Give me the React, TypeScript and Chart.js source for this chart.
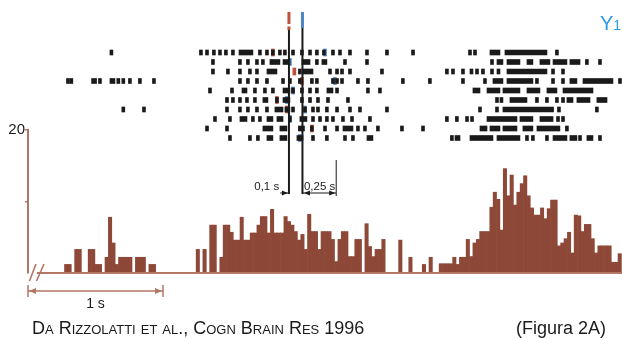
import React, { useEffect, useRef } from 'react';
import { Chart, registerables } from 'chart.js';

Chart.register(...registerables);

const FONT = 'Arial, "Liberation Sans", Helvetica, sans-serif';
Chart.defaults.font.family = FONT;

// ---------- time axis (seconds, 0 = first event) ----------
const T_MIN = -1.933;
const T_MAX = 2.467;

// ---------- histogram: 25 ms bins, bin k centred at k * BIN_WIDTH ----------
const BIN_WIDTH = 0.025;
const FIRST_BIN = -72;
const histCounts = [
  0, 0, 0, 0, 0, 0,
  1.2, 1.2, 0, 3.3, 3.3, 0, 0, 3.3, 3.3, 1.2, 1.2, 0, 2.2, 7.8, 4.2, 1.2,
  2.2, 2.2, 2.2, 2.2, 0, 2.2, 2.2, 2.2, 0, 1.2, 1.2,
  0, 0, 0, 0, 0, 0, 0, 0, 0, 0, 0, 0,
  3.3, 0, 3.3, 0, 6.7, 6.7, 0, 2.2, 6.7, 6.7, 5.7, 4.6, 4.6, 7.8, 4.6, 4.6,
  5.6, 5.6, 6.7, 7.9, 7.9, 5.6, 8.9, 5.6, 5.6, 5.6, 7.9,
  7.2, 6.7, 5.8, 4.6, 5.4, 3.3, 8.2, 5.8, 5.8, 3.3, 5.8, 5.8, 5.8, 4.7, 1.6, 4.7,
  5.8, 5.8, 2.3, 2.3, 4.7, 4.7, 0, 6.9, 3.7, 2.3, 3.3, 3.3, 4.7, 0, 0, 0, 0, 4.6,
  0, 0, 2.2, 0, 0, 0, 1.2, 0, 2.2, 0, 0, 1.3, 1.3, 1.3, 1.3, 2.2, 1.2, 2.2, 2.2,
  4.7, 2.3, 4.2, 4.7, 5.8, 5.8, 5.8, 9.2, 11.3, 10.3, 6.0, 14.6, 10.8, 13.7, 9.5,
  11.3, 12.5, 13.6, 10.8, 9.1, 8.1, 8.1, 9.1, 7.6, 9.0, 10.2, 10.2, 3.8, 4.2, 4.8,
  5.7, 2.8, 8.1, 8.0, 5.8, 6.8, 6.8, 4.8, 2.8, 3.8, 3.8, 3.8, 3.8, 1.5, 1.5, 2.7,
];
const Y_MAX = 20;
const Y_STEP = 10;
const Y_LABELS = { 20: '20' } as Record<number, string>;

// ---------- raster: spike times (s) or bursts [start, end] per trial ----------
type Mark = number | [number, number];
const trial1: Mark[] = [-1.315, -0.652, -0.607, -0.556, -0.511, -0.467, -0.415, [-0.37, -0.267], -0.215, -0.163, -0.119, -0.067, -0.03, 0.03, 0.096, 0.156, 0.207, 0.259, 0.326, 0.378, 0.452, 0.578, 0.726, 0.919, 1.341, 1.378, [1.489, 1.563], [1.6, 1.911], 1.985];
const trial2: Mark[] = [-0.563, -0.363, -0.304, -0.237, -0.193, [-0.141, -0.067], [-0.044, 0.007], [0.096, 0.156], 0.207, [0.244, 0.281], 0.415, 0.578, 1.504, [1.541, 1.585], [1.615, 1.711], [1.763, 1.807], [1.859, 1.933], [1.956, 2.059], [2.081, 2.156], 2.207, 2.304];
const trial3: Mark[] = [-0.563, -0.452, -0.363, -0.289, -0.237, [-0.163, -0.089], 0.081, [0.104, 0.178], 0.304, 0.356, 0.393, 0.452, 0.689, 1.17, 1.215, 1.289, [1.341, 1.363], 1.393, 1.437, 1.504, [1.541, 1.563], [1.615, 1.911], 1.956, 2.03];
const trial4: Mark[] = [-1.637, -1.612, [-1.462, -1.425], -1.4, [-1.326, -1.289], -1.264, -1.227, -1.178, -1.104, -1.0, -0.363, -0.304, -0.237, -0.163, -0.044, 0.007, 0.081, 0.17, 0.207, 0.326, 0.356, 0.393, 0.511, 0.585, 0.844, 1.044, 1.289, 1.452, [1.511, 1.585], [1.615, 1.807], 1.837, 1.956, 2.03, [2.081, 2.133], [2.178, 2.4], 2.452];
const trial5: Mark[] = [-0.585, -0.422, [-0.348, -0.311], -0.252, -0.178, -0.119, [-0.044, 0.007], 0.03, 0.096, 0.156, 0.207, [0.281, 0.326], 0.356, 0.585, 0.674, [1.363, 1.415], [1.467, 1.563], [1.585, 1.711], [1.763, 1.859], [1.911, 1.985], [2.03, 2.252]];
const trial6: Mark[] = [-0.459, -0.415, -0.363, -0.311, -0.252, [-0.193, -0.156], -0.089, [-0.044, 0.007], 0.096, 0.156, 0.215, 0.289, 0.437, 1.541, [1.563, 1.585], [1.637, 1.763], 1.837, 1.911, 1.985, 2.03, [2.059, 2.104], [2.133, 2.23], [2.281, 2.356]];
const trial7: Mark[] = [-1.227, -1.074, -0.459, -0.363, -0.304, -0.237, -0.163, [-0.104, -0.044], [-0.03, 0.007], 0.03, 0.119, 0.178, 0.215, 0.281, 0.356, 0.452, 0.526, 0.726, 1.415, 1.541, [1.585, 1.96], 2.0, 2.281];
const trial8: Mark[] = [-0.548, -0.437, [-0.363, -0.311], -0.267, -0.215, [-0.163, -0.119], [-0.089, -0.044], 0.007, [0.081, 0.133], 0.178, 0.23, 0.281, 0.326, 0.4, 0.467, 0.6, 1.17, 1.244, 1.319, 1.356, [1.467, 1.689], [1.711, 1.807], [1.859, 1.956], 1.993, 2.03];
const trial9: Mark[] = [-0.607, -0.459, [-0.193, -0.119], [-0.067, -0.015], 0.081, 0.104, 0.17, 0.267, 0.356, [0.4, 0.474], 0.511, 0.563, 0.659, 0.837, 0.993, [1.415, 1.467], [1.489, 1.563], [1.585, 1.689], [1.733, 1.807], [1.837, 2.007], 2.059];
const trial10: Mark[] = [-0.437, -0.289, -0.23, [-0.163, -0.119], [-0.067, -0.015], [0.059, 0.104], 0.178, 0.281, 0.415, 0.474, [0.578, 0.622], 1.207, [1.23, 1.267], [1.341, 1.511], [1.541, 1.711], 1.763, 1.807, 1.911, [1.956, 2.059], [2.081, 2.133], 2.156, [2.207, 2.252], 2.304];
const trials = [trial1, trial2, trial3, trial4, trial5, trial6, trial7, trial8, trial9, trial10];

// coloured event marks per trial: [trial index, time]
const redMarks: [number, number][] = [[0, -0.119], [2, 0.04], [3, 0.096], [5, -0.089], [6, -0.015], [8, 0.17]];
const blueMarks: [number, number][] = [[0, 0.267], [1, 0.007], [3, 0.34], [4, 0.03], [5, -0.015], [6, 0.119], [7, 0.007], [9, 0.081]];

// alignment events and intervals
const EVENT_TIMES = [0, 0.1];
const INTERVAL_A = 0.1;
const INTERVAL_A_LABEL = '0,1 s';
const INTERVAL_B = 0.25;
const INTERVAL_B_LABEL = '0,25 s';
const SCALE_BAR = 1;
const SCALE_BAR_LABEL = '1 s';

// ---------- styles ----------
const BAR_COLOR = '#8e4838';
const AXIS_COLOR = '#b47664';
const RED = '#c0503a';
const BLUE = '#4d84c4';
const INK = '#1a1a1a';
const SPIKE_HALF = 0.011;
const W = 622;
const H = 339;

function arrowHead(ctx: CanvasRenderingContext2D, tipX: number, y: number, dir: number, len = 6, half = 2.8) {
  ctx.beginPath();
  ctx.moveTo(tipX, y);
  ctx.lineTo(tipX - dir * len, y - half);
  ctx.lineTo(tipX - dir * len, y + half);
  ctx.closePath();
  ctx.fill();
}

const histDecor = {
  id: 'histDecor',
  afterDatasetsDraw(chart: any) {
    const { ctx, chartArea: a, scales } = chart;
    const x = scales.x;
    const y0 = a.bottom;
    ctx.save();
    ctx.strokeStyle = AXIS_COLOR;
    ctx.lineWidth = 2;
    ctx.beginPath();
    ctx.moveTo(a.left + 9, y0);
    ctx.lineTo(a.right, y0);
    ctx.stroke();
    // axis break
    ctx.lineWidth = 1.6;
    ctx.beginPath();
    ctx.moveTo(a.left + 1.5, y0 + 8);
    ctx.lineTo(a.left + 8, y0 - 9);
    ctx.moveTo(a.left + 8.5, y0 + 8);
    ctx.lineTo(a.left + 16, y0 - 9);
    ctx.stroke();
    // 1 s scale bar
    const sx0 = x.getPixelForValue(T_MIN);
    const sx1 = x.getPixelForValue(T_MIN + SCALE_BAR);
    const sy = y0 + 18;
    ctx.strokeStyle = AXIS_COLOR;
    ctx.fillStyle = AXIS_COLOR;
    ctx.lineWidth = 1.5;
    ctx.beginPath();
    ctx.moveTo(sx0, sy);
    ctx.lineTo(sx1, sy);
    ctx.moveTo(sx0, sy - 6);
    ctx.lineTo(sx0, sy + 6);
    ctx.moveTo(sx1, sy - 6);
    ctx.lineTo(sx1, sy + 6);
    ctx.stroke();
    arrowHead(ctx, sx0 + 1, sy, -1, 7, 3);
    arrowHead(ctx, sx1 - 1, sy, 1, 7, 3);
    ctx.fillStyle = INK;
    ctx.font = `14px ${FONT}`;
    ctx.textAlign = 'center';
    ctx.textBaseline = 'alphabetic';
    ctx.fillText(SCALE_BAR_LABEL, (sx0 + sx1) / 2, y0 + 35);
    ctx.restore();
  },
};

const rasterDecor = {
  id: 'rasterDecor',
  afterDatasetsDraw(chart: any) {
    const { ctx, scales } = chart;
    const x = scales.x;
    const p0 = x.getPixelForValue(EVENT_TIMES[0]);
    const p1 = x.getPixelForValue(EVENT_TIMES[1]);
    const p2 = x.getPixelForValue(EVENT_TIMES[1] + INTERVAL_B);
    ctx.save();
    // event lines
    ctx.strokeStyle = INK;
    ctx.lineWidth = 2;
    [p0, p1].forEach((p) => {
      ctx.beginPath();
      ctx.moveTo(p, 27);
      ctx.lineTo(p, 194);
      ctx.stroke();
    });
    // event markers on top
    ctx.lineWidth = 3;
    ctx.strokeStyle = RED;
    ctx.beginPath();
    ctx.moveTo(p0, 12);
    ctx.lineTo(p0, 24);
    ctx.moveTo(p0, 26.5);
    ctx.lineTo(p0, 30);
    ctx.stroke();
    ctx.strokeStyle = BLUE;
    ctx.beginPath();
    ctx.moveTo(p1, 12);
    ctx.lineTo(p1, 28);
    ctx.stroke();
    // interval annotations
    const ay = 193;
    ctx.strokeStyle = INK;
    ctx.fillStyle = INK;
    ctx.lineWidth = 1;
    const pa = x.getPixelForValue(EVENT_TIMES[0] - INTERVAL_A * 0.65);
    ctx.beginPath();
    ctx.moveTo(pa, ay);
    ctx.lineTo(p0, ay);
    ctx.moveTo(p1, ay);
    ctx.lineTo(p2, ay);
    ctx.moveTo(p2, 160);
    ctx.lineTo(p2, 196);
    ctx.stroke();
    arrowHead(ctx, p0 - 1, ay, 1, 6, 2.5);
    arrowHead(ctx, p1 + 1.5, ay, -1, 6, 2.5);
    arrowHead(ctx, p2 - 1, ay, 1, 6, 2.5);
    ctx.font = `11.5px ${FONT}`;
    ctx.textBaseline = 'alphabetic';
    ctx.textAlign = 'right';
    ctx.fillText(INTERVAL_A_LABEL, pa - 1, 190);
    ctx.textAlign = 'left';
    ctx.fillText(INTERVAL_B_LABEL, p1 + 1.5, 190);
    ctx.restore();
  },
};

function toBar(row: number, m: Mark) {
  const range = Array.isArray(m) ? m : [m - SPIKE_HALF, m + SPIKE_HALF];
  return { y: row, x: range };
}

export default function App() {
  const histRef = useRef<HTMLCanvasElement>(null);
  const rasterRef = useRef<HTMLCanvasElement>(null);

  useEffect(() => {
    const histData = histCounts.map((v, i) => ({ x: (FIRST_BIN + i) * BIN_WIDTH, y: v }));
    const hist = new Chart(histRef.current as HTMLCanvasElement, {
      type: 'bar',
      data: {
        datasets: [
          {
            data: histData as any,
            backgroundColor: BAR_COLOR,
            borderWidth: 0,
            barPercentage: 1,
            categoryPercentage: 1,
          },
        ],
      },
      options: {
        responsive: false,
        animation: false,
        layout: { padding: { left: 0, right: 0, top: 130, bottom: 66 } },
        plugins: { legend: { display: false }, tooltip: { enabled: false } },
        scales: {
          x: { type: 'linear', min: T_MIN, max: T_MAX, offset: false, display: false },
          y: {
            min: 0,
            max: Y_MAX,
            position: 'left',
            afterFit: (s: any) => {
              s.width = 28;
            },
            grid: {
              drawOnChartArea: false,
              drawTicks: true,
              tickLength: 3,
              lineWidth: 1.5,
              color: (c: any) => (c.tick && c.tick.value === 0 ? 'rgba(0,0,0,0)' : AXIS_COLOR),
            },
            border: { display: true, color: AXIS_COLOR, width: 2 },
            ticks: {
              stepSize: Y_STEP,
              padding: 0,
              color: INK,
              font: { family: FONT, size: 15 },
              callback: (v: any) => Y_LABELS[v] ?? '',
            },
          },
        },
      },
      plugins: [histDecor],
    });

    const spikes: any[] = [];
    trials.forEach((tr, row) => tr.forEach((m) => spikes.push(toBar(row, m))));
    const reds = redMarks.map(([row, t]) => toBar(row, t));
    const blues = blueMarks.map(([row, t]) => toBar(row, t));

    const rowTop = 52.5;
    const rowStep = 9.5;
    const plotH = H - 66;
    const yMin = -rowTop / rowStep;
    const yMax = yMin + plotH / rowStep;

    const raster = new Chart(rasterRef.current as HTMLCanvasElement, {
      type: 'bar',
      data: {
        datasets: [
          { data: spikes, backgroundColor: INK, barThickness: 5, grouped: false, borderWidth: 0 } as any,
          { data: reds, backgroundColor: RED, barThickness: 7, grouped: false, borderWidth: 0 } as any,
          { data: blues, backgroundColor: BLUE, barThickness: 7, grouped: false, borderWidth: 0 } as any,
        ],
      },
      options: {
        indexAxis: 'y',
        responsive: false,
        animation: false,
        layout: { padding: { left: 28, right: 0, top: 0, bottom: 66 } },
        plugins: { legend: { display: false }, tooltip: { enabled: false } },
        scales: {
          x: { type: 'linear', min: T_MIN, max: T_MAX, display: false },
          y: { type: 'linear', reverse: true, min: yMin, max: yMax, display: false, offset: false },
        },
      },
      plugins: [rasterDecor],
    });

    return () => {
      hist.destroy();
      raster.destroy();
    };
  }, []);

  const capStyle: React.CSSProperties = {
    position: 'absolute',
    top: 319,
    fontFamily: FONT,
    fontSize: 18,
    lineHeight: '18px',
    color: '#1a1a1a',
    whiteSpace: 'nowrap',
  };

  return (
    <div style={{ position: 'absolute', left: 0, top: 0, width: W, height: H, background: '#fff', overflow: 'hidden' }}>
      <canvas ref={histRef} width={W} height={H} style={{ position: 'absolute', left: 0, top: 0 }} />
      <canvas ref={rasterRef} width={W} height={H} style={{ position: 'absolute', left: 0, top: 0 }} />
      <div
        style={{
          position: 'absolute',
          left: 600,
          top: 13,
          fontFamily: FONT,
          fontSize: 20,
          lineHeight: '20px',
          color: '#2a9be0',
        }}
      >
        Y<span style={{ fontSize: 14 }}>1</span>
      </div>
      <div style={{ ...capStyle, left: 32, fontVariant: 'small-caps' }}>Da Rizzolatti et al., Cogn Brain Res 1996</div>
      <div style={{ ...capStyle, right: 16 }}>(Figura 2A)</div>
    </div>
  );
}
